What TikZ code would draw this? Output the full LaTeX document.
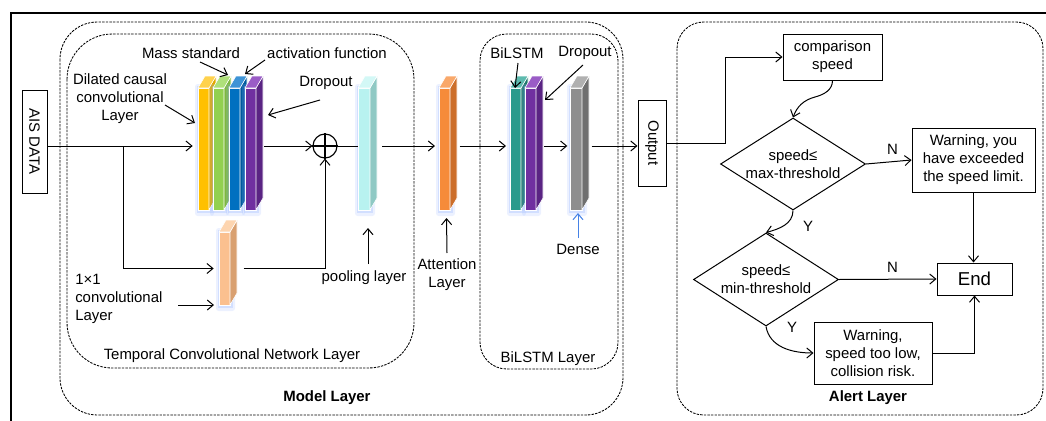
\documentclass[tikz,border=0pt]{standalone}
\usepackage{fontspec}
\setmainfont{Liberation Sans}
\usetikzlibrary{arrows.meta,calc,shapes.geometric}
\newcommand\myprism[8]{%
  \path node[anchor=north west,minimum width=#4,minimum height=#5,inner sep=0,outer sep=0] (#1) at (#2,#3) {};
  \fill[glowc,opacity=.18,rounded corners=2pt] ($(#1.north west)+(-3,-4)$) rectangle ($(#1.south east)+(5,6)$);
  \fill[glowc,opacity=.3] ($(#1.north west)+(-1.5,-2)$) rectangle ($(#1.south east)+(2.5,3)$);
  \fill[#6,draw=white,line width=.4pt] (#1.north west) rectangle (#1.south east);
  \fill[#7,draw=white,line width=.4pt] (#1.north east) -- ++(7,-12) -- ($(#1.south east)+(7,-12)$) -- (#1.south east) -- cycle;
  \fill[#8,draw=white,line width=.4pt] (#1.north west) -- ++(7,-12) -- ($(#1.north east)+(7,-12)$) -- (#1.north east) -- cycle;
  \coordinate (#1r) at ($(#1.east)+(7,0)$);
}
\definecolor{glowc}{RGB}{150,180,255}
\definecolor{denseblue}{RGB}{70,130,230}
\definecolor{cY}{HTML}{FFC000}\definecolor{cYs}{HTML}{E0A800}\definecolor{cYt}{HTML}{FFD24D}
\definecolor{cG}{HTML}{92D050}\definecolor{cGs}{HTML}{7DB83E}\definecolor{cGt}{HTML}{AEE07A}
\definecolor{cB}{HTML}{0070C0}\definecolor{cBs}{HTML}{005A9E}\definecolor{cBt}{HTML}{3D93D6}
\definecolor{cP}{HTML}{7030A0}\definecolor{cPs}{HTML}{5A2483}\definecolor{cPt}{HTML}{9A5CC6}
\definecolor{cC}{HTML}{B8F2F0}\definecolor{cCs}{HTML}{8FC9C4}\definecolor{cCt}{HTML}{D3F8F6}
\definecolor{cO}{HTML}{FBC08F}\definecolor{cOs}{HTML}{D9A070}\definecolor{cOt}{HTML}{FDD5B0}
\definecolor{cA}{HTML}{F68B3A}\definecolor{cAs}{HTML}{CC6E2A}\definecolor{cAt}{HTML}{F9A86A}
\definecolor{cT}{HTML}{2A9A8C}\definecolor{cTs}{HTML}{1F776C}\definecolor{cTt}{HTML}{5DBAAE}
\definecolor{cK}{HTML}{8E8E8E}\definecolor{cKs}{HTML}{6F6F6F}\definecolor{cKt}{HTML}{B0B0B0}
\begin{document}
\begin{tikzpicture}[x=0.75pt,y=-0.75pt,
  every node/.style={font=\fontsize{11.2}{13.6}\selectfont},
  lbl/.style={inner sep=0pt},
  arr/.style={-{Straight Barb[length=4.5pt,width=7.5pt]},line width=0.75pt},
  dbox/.style={draw,dash pattern=on 1.8pt off 0.9pt,line width=0.65pt},
  fbox/.style={draw,line width=0.75pt,inner sep=0,align=center},
  dia/.style={draw,diamond,line width=0.75pt,inner sep=0,minimum width=108.75pt}
]
\useasboundingbox (0,0) rectangle (1046,421);
% frame
\draw[line width=1pt] (11,421) -- (11,13) -- (1046,13);
% dashed containers
\draw[dbox,rounded corners=28pt] (60,22) rectangle (623,415);
\draw[dbox,rounded corners=34pt] (67,34) rectangle (414,368);
\draw[dbox,rounded corners=20pt] (480,34) rectangle (618,369);
\draw[dbox,rounded corners=20pt] (677,22) rectangle (1043,415);
% container labels
\node[lbl] (tcnl) at (232,356) {Temporal Convolutional Network Layer};
\node[lbl,font=\fontsize{11.2}{13.6}\selectfont\bfseries] (ml) at (327,398) {Model Layer};
\node[lbl] (bll) at (548,359) {BiLSTM Layer};
\node[lbl,font=\fontsize{11.2}{13.6}\selectfont\bfseries] (alr) at (868,398) {Alert Layer};
% AIS data
\node[fbox,minimum width=18.75pt,minimum height=77.25pt] (ais) at (34.5,141.5) {\rotatebox{-90}{AIS DATA}};
\coordinate (my) at (0,146);
% blocks
\myprism{yellow}{198}{88}{8.25pt}{91.5pt}{cY}{cYs}{cYt}
\myprism{green}{213}{88}{8.25pt}{91.5pt}{cG}{cGs}{cGt}
\myprism{blue}{229}{88}{8.25pt}{91.5pt}{cB}{cBs}{cBt}
\myprism{purple}{245}{88}{8.25pt}{91.5pt}{cP}{cPs}{cPt}
\myprism{cyan}{358}{88}{9pt}{91.5pt}{cC}{cCs}{cCt}
\myprism{conv1}{219}{232}{8.25pt}{54.75pt}{cO}{cOs}{cOt}
\myprism{attn}{439}{88}{8.25pt}{91.5pt}{cA}{cAs}{cAt}
\myprism{teal}{510}{88}{8.25pt}{91.5pt}{cT}{cTs}{cTt}
\myprism{purpleb}{525}{88}{8.25pt}{91.5pt}{cP}{cPs}{cPt}
\myprism{gray}{570}{88}{9pt}{91.5pt}{cK}{cKs}{cKt}
% sum
\node[circle,draw,line width=0.85pt,minimum size=18pt,inner sep=0] (oplus) at (325,146) {};
\draw[line width=0.85pt] (oplus.north) -- (oplus.south) (oplus.west) -- (oplus.east);
% output
\node[fbox,minimum width=21pt,minimum height=64.5pt] (out) at (652,143) {\rotatebox{-90}{Output}};
% model labels
\node[lbl] (ms) at (191,53) {Mass standard};
\node[lbl] (af) at (327,53) {activation function};
\node[lbl,align=center] (dcl) at (120,99) {Dilated causal\\convolutional\\Layer};
\node[lbl] (do1) at (326,83) {Dropout};
\node[lbl,align=left,anchor=west] (c1l) at (75,299) {1×1\\convolutional\\Layer};
\node[lbl] (pl) at (364,278) {pooling layer};
\node[lbl,align=center] (al) at (447,275) {Attention\\Layer};
\node[lbl] (bl) at (517,53) {BiLSTM};
\node[lbl] (do2) at (585,53) {Dropout};
\node[lbl] (dn) at (578,249) {Dense};
% label arrows
\coordinate (dclA) at (165,105);
\coordinate (msA) at (200,62);
\coordinate (afA) at (265,60);
\coordinate (do1A) at (320,100);
\coordinate (plA) at (368,264);
\coordinate (c1A) at (178,305);
\coordinate (alA) at (447,253);
\coordinate (blA) at (518,63);
\coordinate (do2A) at (583,65);
\coordinate (dnA) at (578,238);
\draw[arr] (dclA) -- ($(yellow.north west)+(-3,35)$);
\draw[arr] (msA) -- ($(green.north east)+(4,-13)$);
\draw[arr] (afA) -- ($(blue.north east)+(5,-14)$);
\draw[arr] (do1A) -- ($(purple.north east)+(12,27)$);
\draw[arr] (plA) -- ($(cyan.south)+(4,18)$);
\draw[arr] (c1A) -- ($(conv1.south west)+(-5,0)$);
\draw[arr] (alA) -- ($(attn.south)+(2,8)$);
\draw[arr] (blA) -- ($(teal.north)+(-0.5,0)$);
\draw[arr] (do2A) -- ($(purpleb.north east)+(9,12)$);
\draw[arr,denseblue] (dnA) -- ($(gray.south)+(2,3)$);
% main flow
\coordinate (br) at (123,146);
\draw[arr,shorten >=4pt] (ais.east |- my) -- (yellow.west |- my);
\draw[arr,shorten >=4pt] (br) |- (conv1.west);
\draw[arr,shorten <=1pt] (purpler |- my) -- (oplus.west);
\draw[line width=0.75pt] (oplus.east) -- (cyan.west |- my);
\draw[arr,shorten <=5pt] (conv1r) -| (oplus.south);
\draw[arr,shorten <=4pt,shorten >=3pt] (cyanr |- my) -- (attn.west |- my);
\draw[arr,shorten <=2pt,shorten >=3pt] (attnr |- my) -- (teal.west |- my);
\draw[arr,shorten <=1pt,shorten >=2pt] (purplebr |- my) -- (gray.west |- my);
\draw[arr,shorten <=2pt] (grayr |- my) -- (out.west |- my);
% alert layer
\node[fbox,minimum width=74.25pt,minimum height=34.5pt] (cmp) at (832.5,57) {comparison\\speed};
\node[dia,minimum height=69pt] (d1) at (793,164) {};
\node[lbl,align=center] (d1t) at (d1) {speed≤\\max-threshold};
\node[fbox,minimum width=92.25pt,minimum height=48pt] (w1) at (973.5,160) {Warning, you\\have exceeded\\the speed limit.};
\node[fbox,minimum width=56.25pt,minimum height=24pt,font=\fontsize{14}{16}\selectfont] (end) at (974.5,279) {End};
\node[dia,minimum height=69.75pt] (d2) at (766,279.5) {};
\node[lbl,align=center] (d2t) at (d2) {speed≤\\min-threshold};
\node[fbox,minimum width=88.5pt,minimum height=46.5pt] (w2) at (873,353) {Warning,\\speed too low,\\collision risk.};
\coordinate (t1) at (725,143);
\coordinate (wv) at (815,97);
\draw[arr] (out.east) -- (t1) |- (cmp.west);
\draw[arr] (cmp.south) to[out=-90,in=15] (wv) to[out=195,in=70] (d1.north);
\draw[arr] (d1.east) -- node[lbl,above=5pt,pos=0.58] (n1) {N} (w1.west);
\draw[arr] (w1.south) -- (w1.south |- end.north);
\draw[arr] (d1.south) to[out=-90,in=15] (d2.north);
\node[lbl] (y1) at (808,226) {Y};
\draw[arr] (d2.east) -- node[lbl,above=5pt,pos=0.55] (n2) {N} (end.west);
\draw[arr] (d2.south) to[out=-80,in=180] (w2.west);
\node[lbl] (y2) at (792,327) {Y};
\draw[arr] (w2.east) -| (end.south);
\end{tikzpicture}
\end{document}
